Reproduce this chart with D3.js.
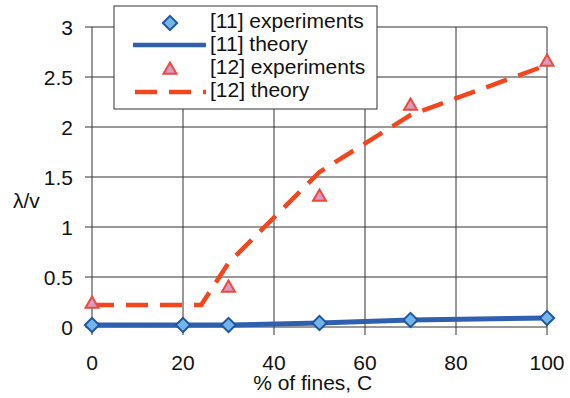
<!DOCTYPE html>
<html>
<head>
<meta charset="utf-8">
<script src="https://cdn.jsdelivr.net/npm/d3@7"></script>
<style>
  body { margin: 0; background: #fff; }
  text { font-family: "Liberation Sans", Arial, sans-serif; fill: #111; }
</style>
</head>
<body>
<div id="chart"></div>
<script>
// Data
const xTicks = [0, 20, 40, 60, 80, 100];
const yTicks = [0, 0.5, 1, 1.5, 2, 2.5, 3];

const exp11X = [0, 20, 30, 50, 70, 100];
const exp11Y = [0.02, 0.02, 0.02, 0.04, 0.07, 0.09];

const theory11X = [0, 20, 30, 50, 70, 100];
const theory11Y = [0.02, 0.02, 0.02, 0.04, 0.07, 0.09];

const exp12X = [0, 30, 50, 70, 100];
const exp12Y = [0.22, 0.38, 1.29, 2.2, 2.64];

const theory12X = [0, 24, 30, 50, 70, 100];
const theory12Y = [0.22, 0.22, 0.64, 1.55, 2.12, 2.62];

const legendLabels = ['[11] experiments', '[11] theory', '[12] experiments', '[12] theory'];

const width = 570, height = 398;
const margin = { top: 27, right: 23, bottom: 71, left: 92 };
const innerWidth = width - margin.left - margin.right;
const innerHeight = height - margin.top - margin.bottom;

const svg = d3.select('#chart').append('svg')
    .attr('width', width)
    .attr('height', height);

const g = svg.append('g')
    .attr('transform', `translate(${margin.left},${margin.top})`);

const x = d3.scaleLinear().domain([0, 100]).range([0, innerWidth]);
const y = d3.scaleLinear().domain([0, 3]).range([innerHeight, 0]);

// Grid lines
g.append('g').selectAll('line').data(yTicks).join('line')
    .attr('x1', -7).attr('x2', innerWidth)
    .attr('y1', d => y(d)).attr('y2', d => y(d))
    .attr('stroke', '#333').attr('stroke-width', 1);

g.append('g').selectAll('line').data(xTicks).join('line')
    .attr('x1', d => x(d)).attr('x2', d => x(d))
    .attr('y1', 0).attr('y2', innerHeight + 8)
    .attr('stroke', '#333').attr('stroke-width', 1);

// Tick labels
g.append('g').selectAll('text').data(yTicks).join('text')
    .attr('x', -19).attr('y', d => y(d) + 8)
    .attr('text-anchor', 'end')
    .style('font-size', '21px')
    .text(d => d);

g.append('g').selectAll('text').data(xTicks).join('text')
    .attr('x', d => x(d)).attr('y', innerHeight + 43)
    .attr('text-anchor', 'middle')
    .style('font-size', '21px')
    .text(d => d);

// Axis titles
svg.append('text')
    .attr('x', margin.left + x(48.5)).attr('y', 390)
    .attr('text-anchor', 'middle')
    .style('font-size', '21px')
    .text('% of fines, C');

svg.append('text')
    .attr('x', 13).attr('y', 208)
    .style('font-size', '21px')
    .text('λ/v');

const line = d3.line().x(d => x(d[0])).y(d => y(d[1]));

// [11] theory
g.append('path')
    .datum(d3.zip(theory11X, theory11Y))
    .attr('d', line)
    .attr('fill', 'none')
    .attr('stroke', '#2f5fae')
    .attr('stroke-width', 5);

// [12] theory
g.append('path')
    .datum(d3.zip(theory12X, theory12Y))
    .attr('d', line)
    .attr('fill', 'none')
    .attr('stroke', '#f2461c')
    .attr('stroke-width', 4.5)
    .attr('stroke-dasharray', '22,12');

const diamond = d3.symbol().type(d3.symbolDiamond2).size(130);
const triangle = d3.symbol().type(d3.symbolTriangle2).size(120);

// [11] experiments
g.append('g').selectAll('path').data(d3.zip(exp11X, exp11Y)).join('path')
    .attr('transform', d => `translate(${x(d[0])},${y(d[1])})`)
    .attr('d', diamond)
    .attr('fill', '#74b4ea')
    .attr('stroke', '#1e56a0')
    .attr('stroke-width', 2);

// [12] experiments
g.append('g').selectAll('path').data(d3.zip(exp12X, exp12Y)).join('path')
    .attr('transform', d => `translate(${x(d[0])},${y(d[1]) - 1})`)
    .attr('d', triangle)
    .attr('fill', '#d99bc2')
    .attr('stroke', '#ec4a3c')
    .attr('stroke-width', 2);

// Legend
const legend = svg.append('g').attr('transform', 'translate(114,6)');
legend.append('rect')
    .attr('width', 263).attr('height', 103)
    .attr('fill', '#fff')
    .attr('stroke', '#333')
    .attr('stroke-width', 1);

legend.append('path')
    .attr('transform', 'translate(56,17)')
    .attr('d', diamond)
    .attr('fill', '#74b4ea')
    .attr('stroke', '#1e56a0')
    .attr('stroke-width', 2);

legend.append('line')
    .attr('x1', 19).attr('x2', 92).attr('y1', 39).attr('y2', 39)
    .attr('stroke', '#2f5fae').attr('stroke-width', 4.5);

legend.append('path')
    .attr('transform', 'translate(56,64)')
    .attr('d', triangle)
    .attr('fill', '#d99bc2')
    .attr('stroke', '#ec4a3c')
    .attr('stroke-width', 2);

legend.append('line')
    .attr('x1', 21).attr('x2', 92).attr('y1', 86).attr('y2', 86)
    .attr('stroke', '#f2461c').attr('stroke-width', 4.5)
    .attr('stroke-dasharray', '22,12');

legend.selectAll('text').data(legendLabels).join('text')
    .attr('x', 96)
    .attr('y', (d, i) => 22 + i * 23)
    .style('font-size', '21px')
    .text(d => d);
</script>
</body>
</html>
